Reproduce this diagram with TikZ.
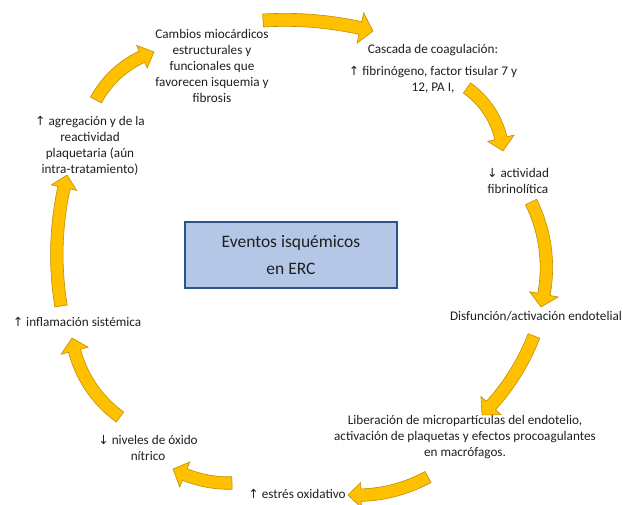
\documentclass[tikz,border=0pt]{standalone}
\usepackage{fontspec}
\setmainfont{Carlito}
\newfontfamily\symf{DejaVu Sans}
\definecolor{arrowfill}{HTML}{FFC000}
\definecolor{arrowline}{HTML}{BF9000}
\definecolor{boxfill}{HTML}{B4C7E7}
\definecolor{boxline}{HTML}{2F528F}
\definecolor{txt}{HTML}{202020}
\newcommand{\upa}{{\symf\fontsize{12.5}{12.5}\selectfont ↑}}
\newcommand{\dna}{{\symf\fontsize{12.5}{12.5}\selectfont ↓}}
% curved block arrow: Sx Sy Tx Ty bend width headwidth headlength
\newcommand{\yarrow}[8]{%
  \pgfmathsetmacro\yDx{#3-#1}%
  \pgfmathsetmacro\yDy{#4-#2}%
  \pgfmathsetmacro\yL{10*veclen(\yDx/10,\yDy/10)}%
  \pgfmathsetmacro\yUx{\yDx/\yL}%
  \pgfmathsetmacro\yUy{\yDy/\yL}%
  \pgfmathsetmacro\yK{\yL/(2*tan(#5))}%
  \pgfmathsetmacro\yCx{(#1+#3)/2-\yUy*\yK}%
  \pgfmathsetmacro\yCy{(#2+#4)/2+\yUx*\yK}%
  \pgfmathsetmacro\yR{\yL/(2*sin(#5))}%
  \pgfmathsetmacro\yThS{atan2(#2-\yCy,#1-\yCx)}%
  \pgfmathsetmacro\yThT{atan2(#4-\yCy,#3-\yCx)}%
  \pgfmathsetmacro\yDth{mod(\yThT-\yThS+540,360)-180}%
  \pgfmathsetmacro\yArc{\yR*pi/180*abs(\yDth)}%
  \pgfmathsetmacro\yThH{\yThS+\yDth*(1-#8/\yArc)}%
  \pgfmathsetmacro\yRo{\yR+#6/2}%
  \pgfmathsetmacro\yRi{\yR-#6/2}%
  \pgfmathsetmacro\yHo{\yR+#7/2}%
  \pgfmathsetmacro\yHi{\yR-#7/2}%
  \path[yarr] plot[domain=\yThS:\yThH, samples=30] ({\yCx+\yRo*cos(\x)},{\yCy+\yRo*sin(\x)})
    -- ({\yCx+\yHo*cos(\yThH)},{\yCy+\yHo*sin(\yThH)})
    -- ({\yCx+\yR*cos(\yThT)},{\yCy+\yR*sin(\yThT)})
    -- ({\yCx+\yHi*cos(\yThH)},{\yCy+\yHi*sin(\yThH)})
    -- plot[domain=\yThH:\yThS, samples=30] ({\yCx+\yRi*cos(\x)},{\yCy+\yRi*sin(\x)})
    -- cycle;
}
\begin{document}
\begin{tikzpicture}[x=1pt,y=-1pt,
  lbl/.style={align=center, inner sep=0pt, text=txt, font=\fontsize{13.2}{16}\selectfont},
  yarr/.style={fill=arrowfill, draw=arrowline, line width=0.6pt, line join=miter},
  centerbox/.style={draw=boxline, fill=boxfill, line width=1.5pt, minimum width=212pt, minimum height=66pt,
     align=center, inner sep=0pt, text=txt, font=\fontsize{17.5}{27}\selectfont}]
\path[use as bounding box, fill=white] (0,0) rectangle (623,505);

% text nodes
\node[lbl] (cambios) at (212,66) {Cambios miocárdicos\\estructurales y\\funcionales que\\favorecen isquemia y\\fibrosis};
\node[lbl] (cascada) at (433,69) {Cascada de coagulación:\\[6pt]\upa\ fibrinógeno, factor tisular 7 y\\12, PA I,};
\node[lbl] (fibrin) at (518,181) {\dna\ actividad\\fibrinolítica};
\node[lbl] (disf) at (536,316) {Disfunción/activación endotelial};
\node[lbl] (liber) at (465,437) {Liberación de micropartículas del endotelio,\\activación de plaquetas y efectos procoagulantes\\en macrófagos.};
\node[lbl] (estres) at (297,494) {\upa\ estrés oxidativo};
\node[lbl] (nitric) at (148,448) {\dna\ niveles de óxido\\nítrico};
\node[lbl] (inflam) at (77,322) {\upa\ inflamación sistémica};
\node[lbl] (agreg) at (90,146) {\upa\ agregación y de la\\reactividad\\plaquetaria (aún\\intra-tratamiento)};
\node[centerbox] (center) at (291,255) {Eventos isquémicos\\en ERC};

% curved block arrows
\yarrow{263}{20.5}{373}{31}{9}{13}{31}{13}
\yarrow{467}{88}{503}{151}{25}{12.5}{27}{13}
\yarrow{531}{202}{541}{307}{21}{12.5}{29}{13}
\yarrow{534}{336}{482}{415}{12}{12.5}{27}{13}
\yarrow{428}{477}{348}{495}{16}{12.5}{25}{13}
\yarrow{232}{483}{173}{469}{15}{12.5}{27}{13}
\yarrow{120}{417}{72}{338}{23}{12.5}{28}{13}
\yarrow{61}{306}{67}{175}{12}{12.5}{26}{13}
\yarrow{96}{100}{154}{52}{22}{12.5}{25}{13}
\end{tikzpicture}
\end{document}
